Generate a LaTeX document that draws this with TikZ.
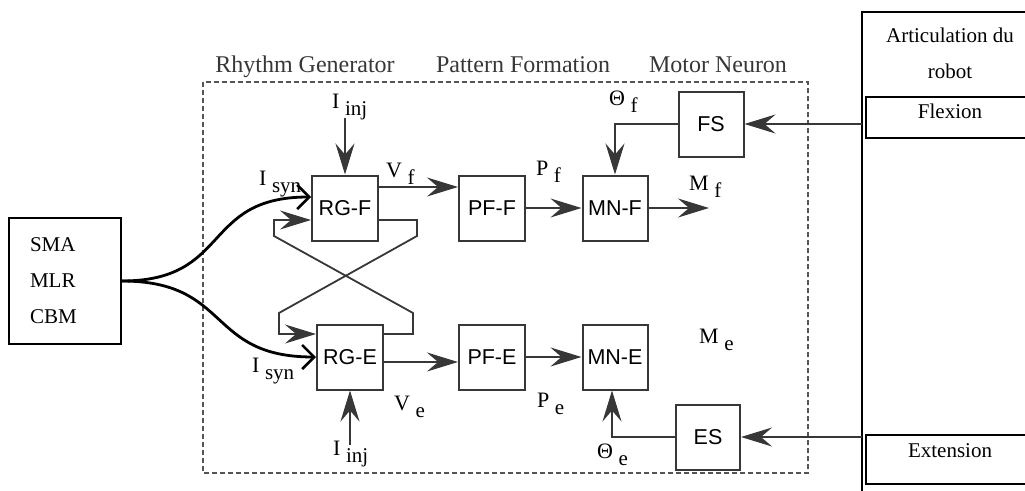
\documentclass[tikz,border=0pt]{standalone}
\usepackage{fontspec}
\setmainfont{Liberation Serif}
\newfontfamily\blocksans{Liberation Sans}
\usepackage{tikz}
\usetikzlibrary{arrows.meta, positioning, calc}
\usepackage{xcolor}
\definecolor{linegray}{RGB}{55,55,55}
\definecolor{dashgray}{RGB}{85,85,85}

% label with a lowered index, as in the scanned figure
\newcommand{\idxlab}[2]{#1\hspace{0.25em}\raisebox{-0.33em}{\fontsize{21}{23}\selectfont #2}}

\tikzset{
  block/.style={draw=linegray, line width=2pt, minimum width=66pt, minimum height=65pt,
    inner sep=0pt, font=\blocksans\fontsize{21.5}{24}\selectfont},
  sig/.style={draw=linegray, line width=1.8pt, -{Stealth[length=31pt,width=19pt,inset=11pt]}},
  drive/.style={draw=black, line width=2.8pt, -{Straight Barb[length=12pt,width=24pt,line width=2.6pt]}},
  lab/.style={font=\fontsize{22}{24}\selectfont, inner sep=0pt, anchor=base west},
  title/.style={font=\fontsize{24}{28}\selectfont, inner sep=0pt, anchor=base, text=linegray},
  robottxt/.style={font=\fontsize{21}{24}\selectfont, inner sep=0pt, anchor=base}
}

\begin{document}
\begin{tikzpicture}[x=1pt, y=-1pt]
  \useasboundingbox (0,0) rectangle (1025,490);

  % CPG frame
  \draw[dashgray, line width=1.4pt, dash pattern=on 5pt off 3pt] (203,82) rectangle (808,473);
  \node[title] (rgtitle) at (305,72) {Rhythm Generator};
  \node[title] (pftitle) at (523,72) {Pattern Formation};
  \node[title] (mntitle) at (718,72) {Motor Neuron};

  % blocks
  \node[block] (rgf) at (345,208) {RG-F};
  \node[block] (rge) at (350,357) {RG-E};
  \node[block] (pff) at (492,208) {PF-F};
  \node[block] (pfe) at (492,357) {PF-E};
  \node[block, minimum width=65pt] (mnf) at (615,208) {MN-F};
  \node[block, minimum width=65pt] (mne) at (615,357) {MN-E};
  \node[block, minimum width=65pt] (fs) at (711,124) {FS};
  \node[block, minimum width=64pt] (es) at (708,437) {ES};

  % supraspinal input
  \node[draw=black, line width=1.4pt, minimum width=112pt, minimum height=126pt,
    text width=70pt, inner xsep=21pt, align=left,
    font=\fontsize{21}{36}\selectfont] (sma) at (65,281) {SMA\\MLR\\CBM};

  % robot joint
  \draw[black, line width=1.5pt] (1030,12) -- (862,12) -- (862,495);
  \draw[black, line width=2.5pt] (866,97) rectangle (1032,138);
  \draw[black, line width=2.5pt] (866,435) rectangle (1032,484);
  \node[robottxt] (artic) at (950,42) {Articulation du};
  \node[robottxt] (robot) at (950,78) {robot};
  \node[robottxt] (flex) at (950,118) {Flexion};
  \node[robottxt] (ext) at (950,457) {Extension};

  \coordinate (flexout) at (862,124);
  \coordinate (extout) at (862,437);
  \coordinate (injf) at (345,118);
  \coordinate (inje) at (350,445);
  \coordinate (mf) at (709,208);

  % connectors
  \draw[sig] (injf) -- (rgf.north);
  \draw[sig] (inje) -- (rge.south);
  \draw[sig] ([yshift=21pt]rgf.east) -- ([yshift=21pt]pff.west);
  \draw[sig] (pff) -- (mnf);
  \draw[sig] (mnf.east) -- (mf);
  \draw[sig] ([yshift=-5pt]rge.east) -- ([yshift=-5pt]pfe.west);
  \draw[sig] (pfe) -- (mne);
  \draw[sig] (flexout) -- (fs.east);
  \draw[sig] (fs.west) -| (mnf.north);
  \draw[sig] (extout) -- (es.east);
  \draw[sig] (es.west) -| ([xshift=-3pt]mne.south);

  % mutual inhibition
  \draw[sig] ([yshift=-12pt]rgf.east) -- ++(38,0) -- ++(0,16) -- ++(-138,77) -- ++(0,21)
    -- ([yshift=23pt]rge.west);
  \draw[sig] ([yshift=23pt]rge.east) -- ++(29,0) -- ++(0,-21) -- ++(-139,-77) -- ++(0,-16)
    -- ([yshift=-12pt]rgf.west);

  \draw[drive] (sma.east) .. controls +(110,0) and +(-110,0) .. ([yshift=11pt]rgf.west);
  \draw[drive] (sma.east) .. controls +(110,0) and +(-110,0) .. (rge.west);

  % signal labels
  \node[lab] (linjf) at (332,108) {\idxlab{I}{inj}};
  \node[lab] (linje) at (333,455) {\idxlab{I}{inj}};
  \node[lab] (lsynf) at (259,185) {\idxlab{I}{syn}};
  \node[lab] (lsyne) at (252,372) {\idxlab{I}{syn}};
  \node[lab] (lvf) at (386,177) {\idxlab{V}{f}};
  \node[lab] (lve) at (394,410) {\idxlab{V}{e}};
  \node[lab] (lpf) at (536,175) {\idxlab{P}{f}};
  \node[lab] (lpe) at (537,407) {\idxlab{P}{e}};
  \node[lab] (lmf) at (689,190) {\idxlab{M}{f}};
  \node[lab] (lme) at (699,343) {\idxlab{M}{e}};
  \node[lab] (lthf) at (609,105) {\idxlab{Θ}{f}};
  \node[lab] (lthe) at (597,458) {\idxlab{Θ}{e}};
\end{tikzpicture}
\end{document}
